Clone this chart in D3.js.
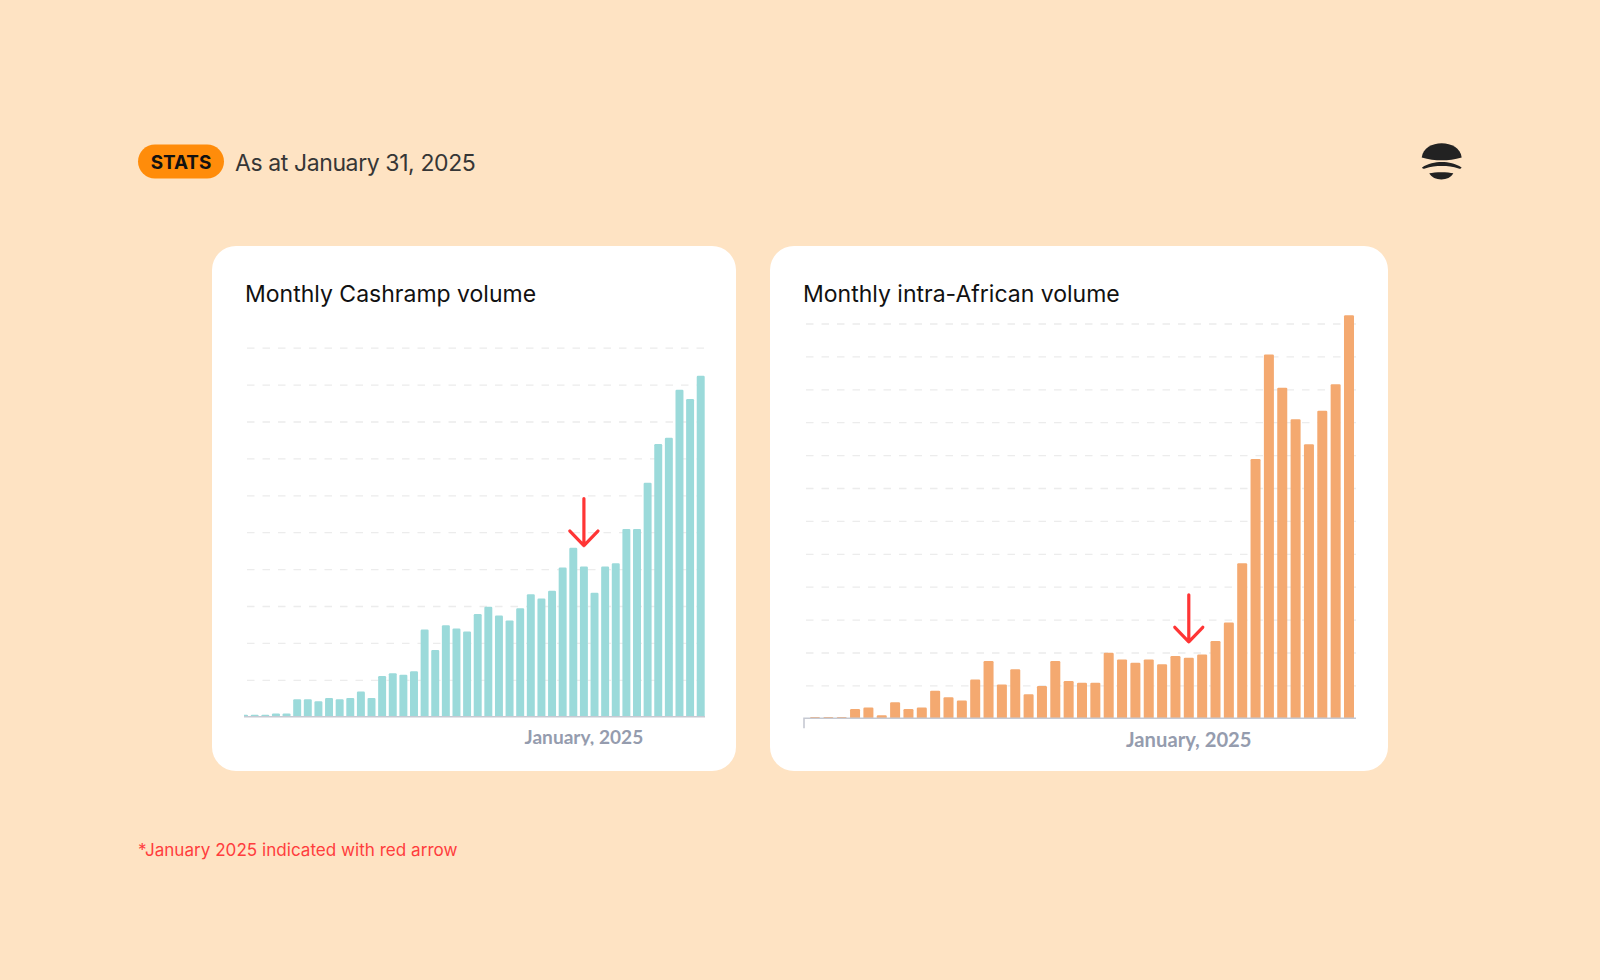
<!DOCTYPE html>
<html>
<head>
<meta charset="utf-8">
<script src="https://cdn.jsdelivr.net/npm/d3@7"></script>
<style>
  html, body { margin: 0; padding: 0; background: #fee3c3; }
  svg { display: block; }
</style>
</head>
<body>
<script>
// months shown in each chart
const cashrampMonths = [
  "2022-05","2022-06","2022-07","2022-08","2022-09","2022-10","2022-11","2022-12",
  "2023-01","2023-02","2023-03","2023-04","2023-05","2023-06","2023-07","2023-08",
  "2023-09","2023-10","2023-11","2023-12","2024-01","2024-02","2024-03","2024-04",
  "2024-05","2024-06","2024-07","2024-08","2024-09","2024-10","2024-11","2024-12",
  "2025-01","2025-02","2025-03","2025-04","2025-05","2025-06","2025-07","2025-08",
  "2025-09","2025-10","2025-11","2025-12"
];
const intraAfricanMonths = [
  "2022-09","2022-10","2022-11","2022-12","2023-01","2023-02","2023-03","2023-04",
  "2023-05","2023-06","2023-07","2023-08","2023-09","2023-10","2023-11","2023-12",
  "2024-01","2024-02","2024-03","2024-04","2024-05","2024-06","2024-07","2024-08",
  "2024-09","2024-10","2024-11","2024-12","2025-01","2025-02","2025-03","2025-04",
  "2025-05","2025-06","2025-07","2025-08","2025-09","2025-10","2025-11","2025-12",
  "2026-01"
];

// volumes in gridline units (no axis values shown)
const cashrampVolume = [
  0.05, 0.05, 0.05, 0.09, 0.09, 0.47, 0.47, 0.42, 0.51, 0.47, 0.51, 0.68,
  0.51, 1.10, 1.18, 1.14, 1.23, 2.36, 1.81, 2.48, 2.39, 2.31, 2.78, 2.98,
  2.74, 2.61, 2.94, 3.32, 3.20, 3.41, 4.04, 4.58, 4.07, 3.36, 4.07, 4.16,
  5.09, 5.09, 6.34, 7.39, 7.56, 8.86, 8.61, 9.24
];
const intraAfricanVolume = [
  0.04, 0.04, 0.04, 0.28, 0.33, 0.09, 0.49, 0.28, 0.33, 0.84, 0.64, 0.54,
  1.18, 1.74, 1.03, 1.49, 0.73, 0.98, 1.74, 1.13, 1.08, 1.08, 1.99, 1.79,
  1.69, 1.79, 1.64, 1.89, 1.84, 1.94, 2.35, 2.91, 4.71, 7.88, 11.06, 10.05,
  9.09, 8.33, 9.35, 10.15, 12.25
];

const cashrampGrid = [1, 2, 3, 4, 5, 6, 7, 8, 9, 10];
const intraAfricanGrid = [1, 2, 3, 4, 5, 6, 7, 8, 9, 10, 11, 12];

const markedMonth = "2025-01";
const markedLabel = "January, 2025";

const W = 1600, H = 980;
const titleFont = "Inter, 'Noto Sans', sans-serif";

const svg = d3.select("body").append("svg")
    .attr("width", W)
    .attr("height", H);

svg.append("rect")
    .attr("width", W).attr("height", H)
    .attr("fill", "#fee3c3");

const defs = svg.append("defs");

// header
svg.append("rect")
    .attr("x", 138).attr("y", 144.5)
    .attr("width", 86).attr("height", 34)
    .attr("rx", 17)
    .attr("fill", "#ff8c0a");

svg.append("text")
    .attr("x", 181).attr("y", 168.7)
    .attr("text-anchor", "middle")
    .attr("font-family", titleFont)
    .attr("font-weight", 700)
    .attr("font-size", 18.9)
    .attr("fill", "#111")
    .text("STATS");

svg.append("text")
    .attr("x", 235).attr("y", 170.7)
    .attr("font-family", titleFont)
    .attr("font-size", 23)
    .attr("letter-spacing", -0.4)
    .attr("fill", "#363636")
    .text("As at January 31, 2025");

// logo
const logo = svg.append("g").attr("fill", "#222");
logo.append("path")
    .attr("d", "M1421.7,157.5 C1423,148 1432,143.3 1441.7,143.3 C1451.4,143.3 1460.4,148 1461.7,157.5 C1455,159.5 1448,160.3 1441.7,160.3 C1435.4,160.3 1428.4,159.5 1421.7,157.5 Z");
logo.append("path")
    .attr("d", "M1422,167.5 C1428,163.5 1435,162 1441.8,162 C1448.6,162 1455.6,163.5 1461.6,167.5 C1461,168.8 1460,169 1458.6,168.4 C1453,166.5 1447.5,166 1441.8,166 C1436.1,166 1430.6,166.5 1425,168.4 C1423.6,169 1422.6,168.8 1422,167.5 Z");
logo.append("path")
    .attr("d", "M1429.3,173.3 C1435,171.8 1448,171.8 1453.3,173.3 C1451,177.5 1446.5,179.4 1441.3,179.4 C1436.1,179.4 1431.6,177.5 1429.3,173.3 Z");

// footnote
svg.append("text")
    .attr("x", 138).attr("y", 856)
    .attr("font-family", titleFont)
    .attr("font-size", 17.1)
    .attr("fill", "#ff3d3d")
    .text("*January 2025 indicated with red arrow");

const charts = [
  {
    id: "cashramp",
    title: "Monthly Cashramp volume",
    months: cashrampMonths,
    values: cashrampVolume,
    grid: cashrampGrid,
    card: { x: 212, y: 246, w: 524, h: 525 },
    titleX: 245,
    xRange: [240.1, 704.7],
    gridX: [247, 705],
    axisStart: 244,
    base: 716.7,
    top: 347.7,
    maxY: 10,
    color: "#9bdada",
    labelSize: 19.1,
    labelDy: 27.6,
    labelClip: 745.5,
    arrowGap: 21,
    startTick: false
  },
  {
    id: "intra",
    title: "Monthly intra-African volume",
    months: intraAfricanMonths,
    values: intraAfricanVolume,
    grid: intraAfricanGrid,
    card: { x: 770, y: 246, w: 618, h: 525 },
    titleX: 803,
    xRange: [810, 1354],
    gridX: [806, 1356],
    axisStart: 804,
    base: 718.3,
    top: 323.5,
    maxY: 12,
    color: "#f4a970",
    labelSize: 20.2,
    labelDy: 29,
    labelClip: null,
    arrowGap: 16,
    startTick: true
  }
];

charts.forEach(c => {
  svg.append("rect")
      .attr("x", c.card.x).attr("y", c.card.y)
      .attr("width", c.card.w).attr("height", c.card.h)
      .attr("rx", 24)
      .attr("fill", "#fff");

  svg.append("text")
      .attr("x", c.titleX).attr("y", 301.7)
      .attr("font-family", titleFont)
      .attr("font-size", 23)
      .attr("fill", "#111")
      .text(c.title);

  const x = d3.scaleBand()
      .domain(c.months)
      .range(c.xRange)
      .paddingInner(0.25)
      .paddingOuter(0);

  const y = d3.scaleLinear()
      .domain([0, c.maxY])
      .range([c.base, c.top]);

  // dashed gridlines
  const gridAxis = d3.axisRight(y)
      .tickValues(c.grid)
      .tickSize(c.gridX[1] - c.gridX[0])
      .tickFormat("");

  svg.append("g")
      .attr("transform", `translate(${c.gridX[0]},0)`)
      .call(gridAxis)
      .call(g => g.select(".domain").remove())
      .call(g => g.selectAll(".tick line")
          .attr("stroke", "#ececec")
          .attr("stroke-width", 1.3)
          .attr("stroke-dasharray", "7.5,8"));

  defs.append("clipPath")
      .attr("id", "clip-" + c.id)
      .append("rect")
      .attr("x", c.axisStart).attr("y", 0)
      .attr("width", c.gridX[1] - c.axisStart + 5)
      .attr("height", c.base);

  svg.append("g")
      .attr("clip-path", `url(#clip-${c.id})`)
      .selectAll("rect")
      .data(c.values)
      .join("rect")
      .attr("x", (d, i) => x(c.months[i]))
      .attr("y", d => y(d))
      .attr("width", x.bandwidth())
      .attr("height", d => c.base - y(d) + 1)
      .attr("rx", 1.2)
      .attr("fill", c.color);

  // baseline
  const basePath = c.startTick
      ? `M${c.axisStart},${c.base + 10}V${c.base}H${c.gridX[1]}`
      : `M${c.axisStart},${c.base}H${c.gridX[1]}`;
  svg.append("path")
      .attr("d", basePath)
      .attr("fill", "none")
      .attr("stroke", "#c6c9d2")
      .attr("stroke-width", 1.6);

  // x label for the marked month only
  const xAxis = d3.axisBottom(x)
      .tickValues([markedMonth])
      .tickFormat(() => markedLabel)
      .tickSize(0);

  const labelG = svg.append("g");
  const axisG = labelG.append("g")
      .attr("transform", `translate(0,${c.base})`)
      .call(xAxis)
      .call(g => g.select(".domain").remove());

  if (c.labelClip) {
    // the original label is cut off just under its baseline
    defs.append("clipPath")
        .attr("id", "lclip-" + c.id)
        .append("rect")
        .attr("x", c.card.x).attr("y", c.base + 2)
        .attr("width", c.card.w).attr("height", c.labelClip - c.base - 2);
    labelG.attr("clip-path", `url(#lclip-${c.id})`);
  }

  axisG.selectAll(".tick text")
      .attr("y", c.labelDy)
      .attr("dy", 0)
      .attr("font-family", "Lato, sans-serif")
      .attr("font-weight", 700)
      .attr("font-size", c.labelSize)
      .attr("fill", "#959cae");

  // red arrow
  const ax = x(markedMonth) + x.bandwidth() / 2;
  const tip = y(c.values[c.months.indexOf(markedMonth)]) - c.arrowGap;
  svg.append("path")
      .attr("d", `M${ax},${tip - 47}V${tip} M${ax - 14},${tip - 14.5}L${ax},${tip}L${ax + 14},${tip - 14.5}`)
      .attr("fill", "none")
      .attr("stroke", "#ff3535")
      .attr("stroke-width", 3.2)
      .attr("stroke-linecap", "round")
      .attr("stroke-linejoin", "round");
});
</script>
</body>
</html>
